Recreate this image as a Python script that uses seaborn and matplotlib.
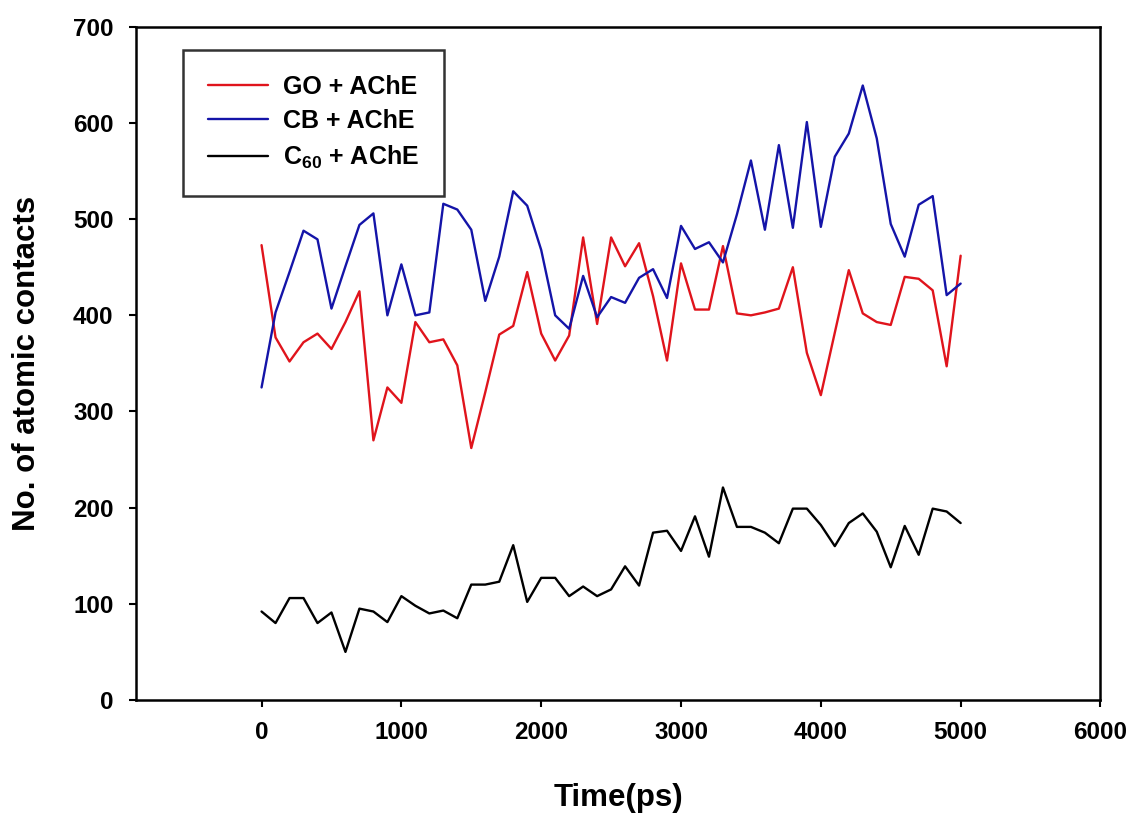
import numpy as np
import pandas as pd
import matplotlib
matplotlib.use("Agg")
import matplotlib.pyplot as plt
import seaborn as sns

time_ps = list(range(0, 5001, 100))

go_ache = [473, 377, 352, 372, 381, 365, 393, 425, 270, 325,
           309, 393, 372, 375, 348, 262, 320, 380, 389, 445,
           381, 353, 379, 481, 391, 481, 451, 475, 420, 353,
           454, 406, 406, 472, 402, 400, 403, 407, 450, 361,
           317, 382, 447, 402, 393, 390, 440, 438, 426, 347,
           462]

cb_ache = [325, 403, 445, 488, 479, 407, 451, 494, 506, 400,
           453, 400, 403, 516, 510, 489, 415, 461, 529, 514,
           468, 400, 386, 441, 398, 419, 413, 439, 448, 418,
           493, 469, 476, 455, 505, 561, 489, 577, 491, 601,
           492, 565, 589, 639, 584, 495, 461, 515, 524, 421,
           433]

c60_ache = [92, 80, 106, 106, 80, 91, 50, 95, 92, 81,
            108, 98, 90, 93, 85, 120, 120, 123, 161, 102,
            127, 127, 108, 118, 108, 115, 139, 119, 174, 176,
            155, 191, 149, 221, 180, 180, 174, 163, 199, 199,
            182, 160, 184, 194, 175, 138, 181, 151, 199, 196,
            184]

series_labels = ["GO + AChE", "CB + AChE", r"C$_{60}$ + AChE"]
x_ticks = [0, 1000, 2000, 3000, 4000, 5000, 6000]
y_ticks = [0, 100, 200, 300, 400, 500, 600, 700]

df = pd.DataFrame({
    "Time": time_ps * 3,
    "Contacts": go_ache + cb_ache + c60_ache,
    "Series": [series_labels[0]] * len(time_ps)
              + [series_labels[1]] * len(time_ps)
              + [series_labels[2]] * len(time_ps),
})

sns.set_theme(style="ticks")
plt.rcParams["font.family"] = ["Liberation Sans", "DejaVu Sans"]
plt.rcParams["mathtext.fontset"] = "custom"
plt.rcParams["mathtext.rm"] = "Liberation Sans:bold"
plt.rcParams["mathtext.it"] = "Liberation Sans:bold"
plt.rcParams["mathtext.bf"] = "Liberation Sans:bold"
plt.rcParams["text.color"] = "black"
plt.rcParams["axes.labelcolor"] = "black"
plt.rcParams["xtick.color"] = "black"
plt.rcParams["ytick.color"] = "black"

fig = plt.figure(figsize=(11.31, 8.13), dpi=100)
ax = fig.add_axes([0.120, 0.139, 0.853, 0.828])

palette = {series_labels[0]: "#E0141C",
           series_labels[1]: "#1414A8",
           series_labels[2]: "#000000"}

sns.lineplot(data=df, x="Time", y="Contacts", hue="Series",
             palette=palette, linewidth=1.7, ax=ax, legend=True)

ax.set_xlim(-900, 6000)
ax.set_ylim(0, 700)
ax.set_xticks(x_ticks)
ax.set_yticks(y_ticks)
ax.set_xticklabels([str(v) for v in x_ticks], fontsize=17.5, fontweight="bold")
ax.set_yticklabels([str(v) for v in y_ticks], fontsize=17.5, fontweight="bold")
ax.tick_params(axis="both", direction="out", length=5, width=1.5, color="black",
               labelcolor="black")
ax.tick_params(axis="x", pad=10)
ax.tick_params(axis="y", pad=11)

for s in ax.spines.values():
    s.set_visible(True)
    s.set_linewidth(1.8)
    s.set_color("black")

ax.set_xlabel("Time(ps)", fontsize=22.5, fontweight="bold", labelpad=28, color="black")
ax.set_ylabel("No. of atomic contacts", fontsize=22.5, fontweight="bold", labelpad=22,
              color="black")

handles, labels = ax.get_legend_handles_labels()
leg = ax.legend(handles, labels, loc="upper left", bbox_to_anchor=(0.0487, 0.966),
                frameon=True, fancybox=False, edgecolor="black",
                prop={"weight": "bold", "size": 18}, handlelength=2.4,
                handletextpad=0.6, borderpad=1.0, labelspacing=0.42,
                borderaxespad=0)
leg.get_frame().set_linewidth(1.8)
for line in leg.get_lines():
    line.set_linewidth(1.7)
for t in leg.get_texts():
    t.set_color("black")

fig.savefig("out.png", dpi=100, facecolor="white")
